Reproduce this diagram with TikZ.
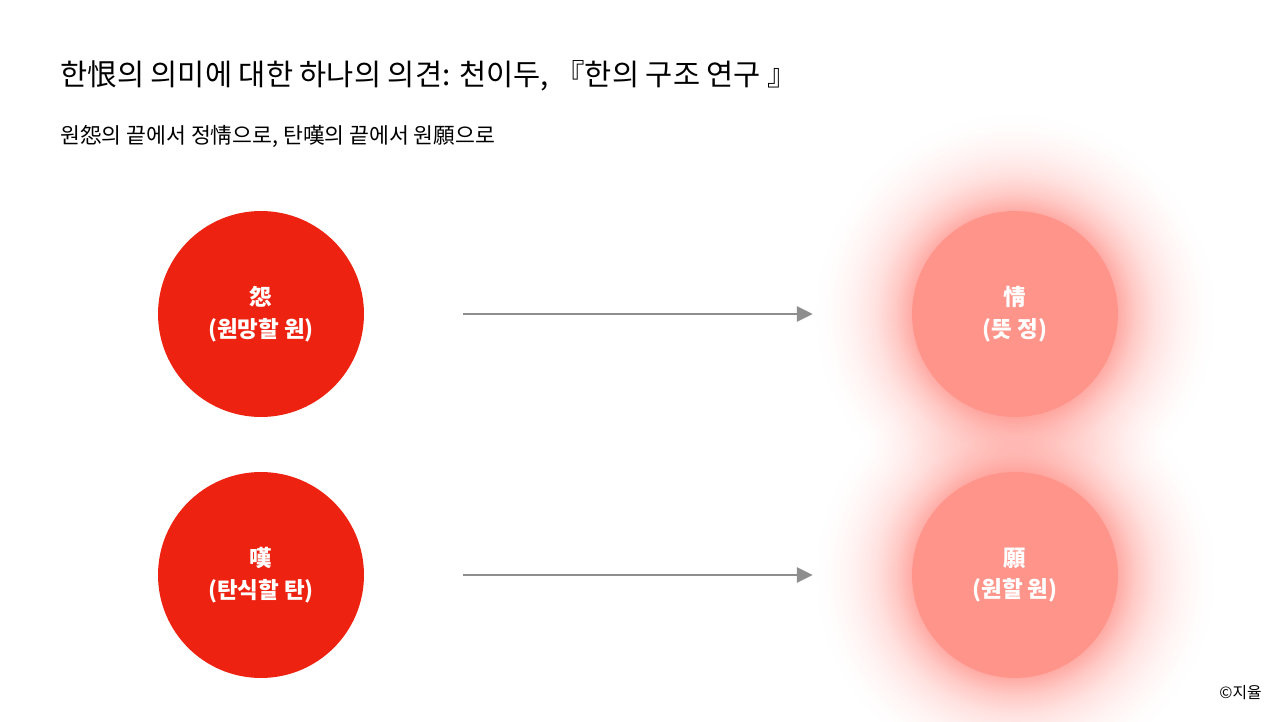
\documentclass[tikz,border=0pt]{standalone}
\usepackage{fontspec}
\setmainfont{Noto Sans CJK KR}
\usetikzlibrary{arrows.meta,fadings}

\definecolor{hanred}{HTML}{EE2211}
\definecolor{hanpink}{HTML}{FF958A}
\definecolor{hanglow}{HTML}{FF5A4E}
\definecolor{hangray}{HTML}{8E8E8E}

\pgfdeclareradialshading{glowshade}{\pgfpointorigin}{color(0bp)=(white!50!black); color(12.9bp)=(white!50!black); color(15bp)=(white!32!black); color(17.5bp)=(white!17!black); color(20.5bp)=(white!7!black); color(23bp)=(white!2!black); color(25bp)=(black); color(50bp)=(black)}
\pgfdeclarefading{glowfade}{\pgfuseshading{glowshade}}

\tikzset{
  ball/.style={circle, minimum size=4.12cm, inner sep=0pt, align=center, text=white,
    font=\bfseries\fontsize{12.8}{18}\selectfont},
  flow/.style={hangray, line width=1.7pt, shorten <=1.98cm, shorten >=1.98cm,
    -{Triangle[length=9pt,width=8.5pt]}},
  glow/.style={hanglow, path fading=glowfade}
}

\begin{document}
\begin{tikzpicture}[x=0.02cm,y=-0.02cm]
\useasboundingbox (0,0) rectangle (1280,722);

\node[anchor=west, inner sep=0pt, font=\fontsize{16.8}{20}\selectfont] (title) at (60,76) {한恨의 의미에 대한 하나의 의견: 천이두, 『한의 구조 연구 』};
\node[anchor=west, inner sep=0pt, font=\fontsize{12.3}{15}\selectfont] (sub) at (60,136) {원怨의 끝에서 정情으로, 탄嘆의 끝에서 원願으로};

% soft halo round the right pair
\fill[glow] (1015,314) circle (4cm);
\fill[glow] (1015,575) circle (4cm);

\node[ball, fill=hanred]  (won)   at (261,314)  {怨\\(원망할 원)};
\node[ball, fill=hanred]  (tan)   at (261,575)  {嘆\\(탄식할 탄)};
\node[ball, fill=hanpink] (jeong) at (1015,314) {情\\(뜻 정)};
\node[ball, fill=hanpink] (wish)  at (1015,575) {願\\(원할 원)};

\draw[flow] (won) -- (jeong);
\draw[flow] (tan) -- (wish);

\node[anchor=east, inner sep=0pt, font=\fontsize{9}{11}\selectfont] (copy) at (1262,693) {©지율};
\end{tikzpicture}
\end{document}
